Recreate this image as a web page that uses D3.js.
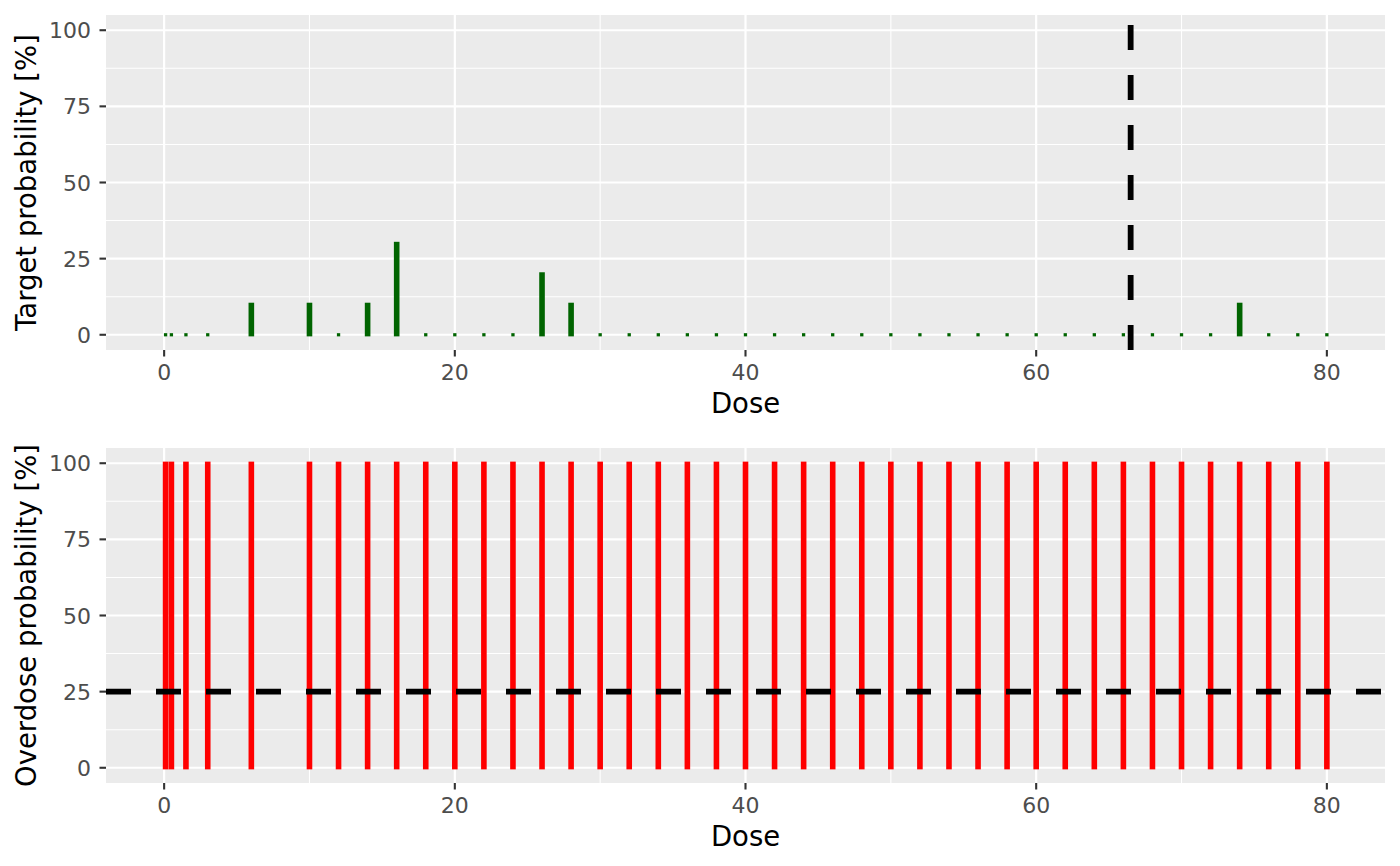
<!DOCTYPE html>
<html>
<head>
<meta charset="utf-8">
<script src="https://cdn.jsdelivr.net/npm/d3@7/dist/d3.min.js"></script>
<style>
  html, body { margin: 0; padding: 0; background: #ffffff; }
  svg text { font-family: "DejaVu Sans", sans-serif; }
</style>
</head>
<body>
<svg id="chart" width="1400" height="866"></svg>
<script>
// ---- data ----
const doses = [0.1, 0.5, 1.5, 3, 6, 10, 12, 14, 16, 18, 20, 22, 24, 26, 28, 30, 32, 34, 36, 38, 40,
               42, 44, 46, 48, 50, 52, 54, 56, 58, 60, 62, 64, 66, 68, 70, 72, 74, 76, 78, 80];
const targetProb = [0, 0, 0, 0, 10, 10, 0, 10, 30, 0, 0, 0, 0, 20, 10, 0, 0, 0, 0, 0, 0,
                    0, 0, 0, 0, 0, 0, 0, 0, 0, 0, 0, 0, 0, 0, 0, 0, 10, 0, 0, 0];
const overdoseProb = [100, 100, 100, 100, 100, 100, 100, 100, 100, 100, 100, 100, 100, 100, 100, 100, 100, 100, 100, 100, 100,
                      100, 100, 100, 100, 100, 100, 100, 100, 100, 100, 100, 100, 100, 100, 100, 100, 100, 100, 100, 100];
const targetDoseLine = 66.5;     // vertical dashed line in top panel
const overdoseLimit = 25;        // horizontal dashed line in bottom panel
const xTicks = [0, 20, 40, 60, 80];
const xMinor = [10, 30, 50, 70];
const yTicks = [0, 25, 50, 75, 100];
const yMinor = [12.5, 37.5, 62.5, 87.5];

const svg = d3.select("#chart");
const left = 106, right = 1385;

const x = d3.scaleLinear().domain([-4, 84]).range([left, right]);

function panel(top, bottom, values, color, yTitle) {
  const y = d3.scaleLinear().domain([-5, 105]).range([bottom, top]);
  const g = svg.append("g");
  g.append("rect").attr("x", left).attr("y", top)
    .attr("width", right - left).attr("height", bottom - top).attr("fill", "#EBEBEB");
  // minor grid
  g.selectAll(".xmin").data(xMinor).enter().append("line")
    .attr("x1", d => x(d)).attr("x2", d => x(d)).attr("y1", top).attr("y2", bottom)
    .attr("stroke", "#fff").attr("stroke-width", 1.1);
  g.selectAll(".ymin").data(yMinor).enter().append("line")
    .attr("y1", d => y(d)).attr("y2", d => y(d)).attr("x1", left).attr("x2", right)
    .attr("stroke", "#fff").attr("stroke-width", 1.1);
  // major grid
  g.selectAll(".xmaj").data(xTicks).enter().append("line")
    .attr("x1", d => x(d)).attr("x2", d => x(d)).attr("y1", top).attr("y2", bottom)
    .attr("stroke", "#fff").attr("stroke-width", 2.2);
  g.selectAll(".ymaj").data(yTicks).enter().append("line")
    .attr("y1", d => y(d)).attr("y2", d => y(d)).attr("x1", left).attr("x2", right)
    .attr("stroke", "#fff").attr("stroke-width", 2.2);
  // bars
  const data = doses.map((d, i) => ({ dose: d, v: values[i] }));
  g.selectAll(".bar").data(data).enter().append("rect")
    .attr("x", d => x(d.dose) - (d.v > 0 ? 2.8 : 1.65))
    .attr("width", d => d.v > 0 ? 5.6 : 3.3)
    .attr("y", d => y(d.v) - 1.6)
    .attr("height", d => y(0) - y(d.v) + 3.2)
    .attr("fill", color);
  // axes ticks
  g.selectAll(".xt").data(xTicks).enter().append("line")
    .attr("x1", d => x(d)).attr("x2", d => x(d)).attr("y1", bottom).attr("y2", bottom + 6.5)
    .attr("stroke", "#333333").attr("stroke-width", 2.1);
  g.selectAll(".xl").data(xTicks).enter().append("text")
    .attr("x", d => x(d)).attr("y", bottom + 29.5).attr("text-anchor", "middle")
    .attr("font-size", 22).attr("fill", "#4D4D4D").text(d => d);
  g.selectAll(".yt").data(yTicks).enter().append("line")
    .attr("y1", d => y(d)).attr("y2", d => y(d)).attr("x1", left - 6.5).attr("x2", left)
    .attr("stroke", "#333333").attr("stroke-width", 2.1);
  g.selectAll(".yl").data(yTicks).enter().append("text")
    .attr("x", left - 15).attr("y", d => y(d) + 8).attr("text-anchor", "end")
    .attr("font-size", 22).attr("fill", "#4D4D4D").text(d => d);
  // titles
  g.append("text").attr("x", (left + right) / 2).attr("y", bottom + 63)
    .attr("text-anchor", "middle").attr("font-size", 27.5).attr("fill", "#000").text("Dose");
  g.append("text").attr("transform", `translate(36,${(top + bottom) / 2}) rotate(-90)`)
    .attr("text-anchor", "middle").attr("font-size", 27.5).attr("fill", "#000").text(yTitle);
  return { g, y };
}

const p1 = panel(15, 350, targetProb, "#006400", "Target probability [%]");
p1.g.append("line")
  .attr("x1", x(targetDoseLine)).attr("x2", x(targetDoseLine))
  .attr("y1", p1.y(-5)).attr("y2", p1.y(105))
  .attr("stroke", "#000").attr("stroke-width", 5.8).attr("stroke-dasharray", "25,25");

const p2 = panel(448, 783, overdoseProb, "#FF0000", "Overdose probability [%]");
p2.g.append("line")
  .attr("x1", x(-4)).attr("x2", x(84))
  .attr("y1", p2.y(overdoseLimit)).attr("y2", p2.y(overdoseLimit))
  .attr("stroke", "#000").attr("stroke-width", 5.8).attr("stroke-dasharray", "25,25");
</script>
</body>
</html>
